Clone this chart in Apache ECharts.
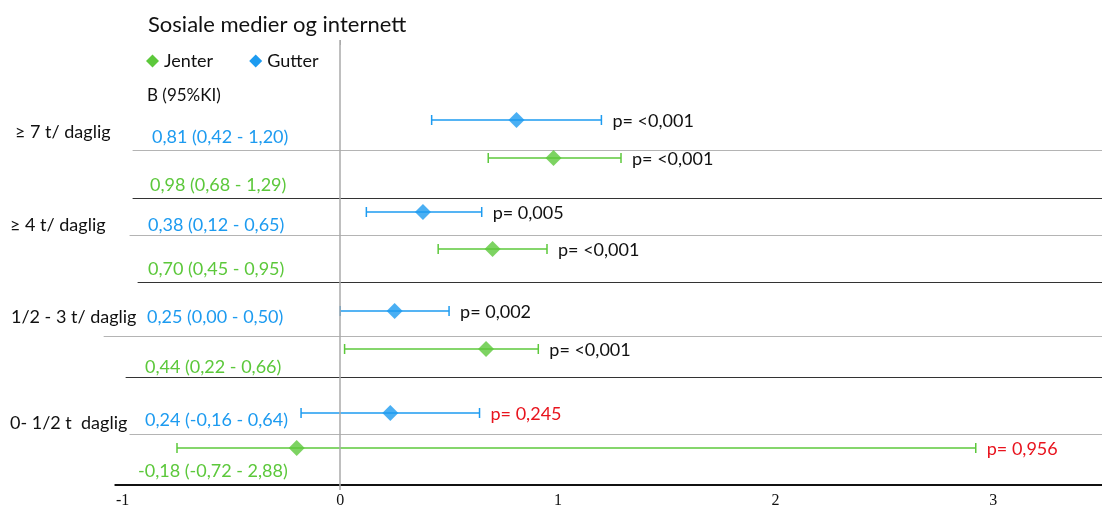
<!DOCTYPE html>
<html><head><meta charset="utf-8">
<script src="https://cdn.jsdelivr.net/npm/echarts@6/dist/echarts.min.js"></script>
<style>html,body{margin:0;padding:0;background:#fff}#c{width:1102px;height:511px}</style>
</head><body><div id="c"></div>
<script>
// ---- data ----
const groups = ['≥ 7 t/ daglig', '≥ 4 t/ daglig', '1/2 - 3 t/ daglig', '0- 1/2 t  daglig'];
const gutterB    = [0.81, 0.38, 0.25, 0.23];
const gutterLow  = [0.42, 0.12, 0.00, -0.18];
const gutterHigh = [1.20, 0.65, 0.50, 0.64];
const gutterP    = ['<0,001', '0,005', '0,002', '0,245'];
const gutterText = ['0,81 (0,42 - 1,20)', '0,38 (0,12 - 0,65)', '0,25 (0,00 - 0,50)', '0,24 (-0,16 - 0,64)'];
const jenterB    = [0.98, 0.70, 0.67, -0.20];
const jenterLow  = [0.68, 0.45, 0.02, -0.75];
const jenterHigh = [1.29, 0.95, 0.91, 2.92];
const jenterP    = ['<0,001', '<0,001', '<0,001', '0,956'];
const jenterText = ['0,98 (0,68 - 1,29)', '0,70 (0,45 - 0,95)', '0,44 (0,22 - 0,66)', '-0,18 (-0,72 - 2,88)'];
// row positions (scatter y values, as in the original spreadsheet plot)
const gutterRow = [8.0, 17.2, 27.1, 37.3];
const jenterRow = [11.8, 20.9, 30.9, 40.8];
const xTicks = [-1, 0, 1, 2, 3];

// ---- styles ----
const BLUE = '#1d9bf0', GREEN = '#5cc83b';
const FONT = 'Lato';
const isSig = p => p.startsWith('<') || parseFloat(p.replace(',', '.')) < 0.05;

function errData(low, high, row, p) {
  return low.map((l, i) => [l, high[i], row[i], p[i]]);
}
function errRender(color, pList) {
  return function (params, api) {
    const y = api.coord([0, api.value(2)])[1];
    const x1 = api.coord([api.value(0), 0])[0];
    const x2 = api.coord([api.value(1), 0])[0];
    const ptxt = pList[params.dataIndex];
    const ls = {stroke: color, lineWidth: 1.5};
    return {type: 'group', children: [
      {type: 'line', shape: {x1: x1, y1: y, x2: x2, y2: y}, style: ls},
      {type: 'line', shape: {x1: x1, y1: y - 5, x2: x1, y2: y + 5}, style: ls},
      {type: 'line', shape: {x1: x2, y1: y - 5, x2: x2, y2: y + 5}, style: ls},
      {type: 'text', x: x2 + 11, y: y + 1, style: {text: 'p= ' + ptxt, fill: isSig(ptxt) ? '#111' : '#e8141e',
        fontSize: 18, fontFamily: FONT, verticalAlign: 'middle', align: 'left'}}
    ]};
  };
}

const sepGray = '#b4b4b4', sepDark = '#333';
function seg(x0, y, color, w) {
  return [{coord: [x0, y], lineStyle: {color: color, width: w, type: 'solid'}}, {coord: [3.5, y]}];
}

const chart = echarts.init(document.getElementById('c'), null, {renderer: 'canvas'});
const graphics = [];
const labelY = [[138, 186], [226, 270], [318, 368], [421, 472]];
const labelX = [[152, 150], [148, 148], [147, 145], [145, 138]];
const groupY = [133, 226, 318, 424];
const groupX = [15, 10, 11, 10];
groups.forEach((g, i) => {
  graphics.push({type: 'text', left: groupX[i], top: groupY[i] - 10, style: {text: g, fill: '#111', fontSize: 18, fontFamily: FONT}});
  graphics.push({type: 'text', left: labelX[i][0], top: labelY[i][0] - 10, style: {text: gutterText[i], fill: BLUE, fontSize: 18, fontFamily: FONT}});
  graphics.push({type: 'text', left: labelX[i][1], top: labelY[i][1] - 10, style: {text: jenterText[i], fill: GREEN, fontSize: 18, fontFamily: FONT}});
});
graphics.push({type: 'text', left: 147, top: 87, style: {text: 'B (95%KI)', fill: '#111', fontSize: 17, fontFamily: FONT}});

chart.setOption({
  animation: false,
  title: {text: 'Sosiale medier og internett', left: 143, top: 9,
    textStyle: {fontFamily: FONT, fontSize: 22, fontWeight: 'normal', color: '#111'}},
  legend: {data: ['Jenter', 'Gutter'], left: 141, top: 47, icon: 'diamond', itemWidth: 13, itemHeight: 13,
    itemGap: 36, textStyle: {fontFamily: FONT, fontSize: 18, color: '#111'}},
  grid: {left: 103, right: 0, top: 40, bottom: 21},
  xAxis: {type: 'value', min: -1.09, max: 3.5,
    axisLine: {show: false}, splitLine: {show: false},
    axisTick: {show: true, customValues: [0], length: 5, lineStyle: {color: '#aaa'}},
    axisLabel: {customValues: xTicks, margin: 3, fontFamily: 'Liberation Serif', fontSize: 16, color: '#111'}},
  yAxis: {type: 'value', inverse: true, min: 0, max: 45, show: false},
  graphic: graphics,
  series: [
    {name: 'Gutter', type: 'custom', renderItem: errRender(BLUE, gutterP), data: errData(gutterLow, gutterHigh, gutterRow, gutterP),
      encode: {x: [0, 1], y: 2}, itemStyle: {color: BLUE}, z: 3,
      markLine: {silent: true, symbol: 'none', label: {show: false},
        data: [
          seg(-0.954, 11.0, sepGray, 1.2), seg(-0.954, 15.8, sepDark, 1.2), seg(-0.968, 19.5, sepGray, 1.2),
          seg(-0.931, 24.2, sepDark, 1.2), seg(-1.087, 29.6, sepGray, 1.2), seg(-0.986, 33.7, sepDark, 1.2),
          seg(-0.968, 39.4, sepGray, 1.2), seg(-1.037, 44.5, '#111', 2),
          [{coord: [0, 0], lineStyle: {color: '#aaa', width: 1.5, type: 'solid'}}, {coord: [0, 45]}]
        ]}},
    {name: 'Jenter', type: 'custom', renderItem: errRender(GREEN, jenterP), data: errData(jenterLow, jenterHigh, jenterRow, jenterP),
      encode: {x: [0, 1], y: 2}, itemStyle: {color: GREEN}, z: 3},
    {name: 'Gutter', type: 'scatter', symbol: 'diamond', symbolSize: 16, itemStyle: {color: BLUE}, z: 5,
      data: gutterB.map((v, i) => [v, gutterRow[i]])},
    {name: 'Jenter', type: 'scatter', symbol: 'diamond', symbolSize: 16, itemStyle: {color: GREEN}, z: 5,
      data: jenterB.map((v, i) => [v, jenterRow[i]])}
  ]
});
</script></body></html>
